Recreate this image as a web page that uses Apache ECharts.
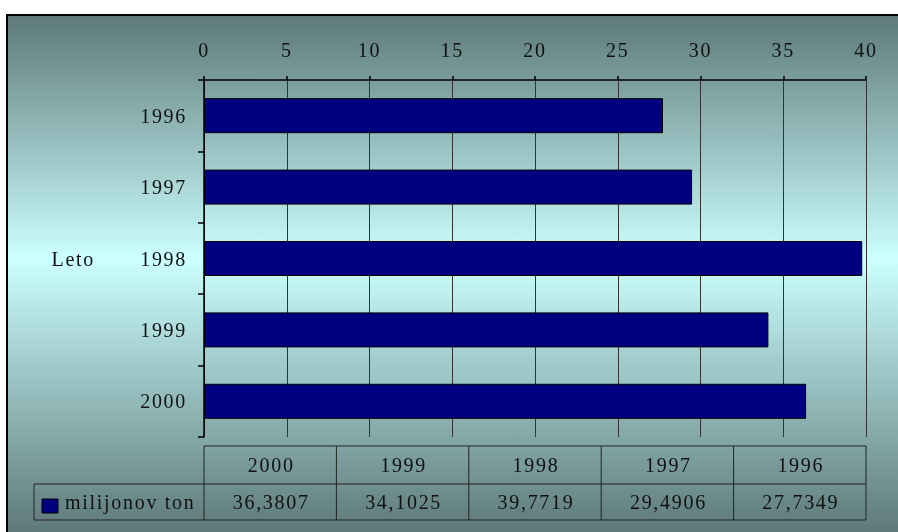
<!DOCTYPE html>
<html><head><meta charset="utf-8">
<script src="https://cdn.jsdelivr.net/npm/echarts@6/dist/echarts.min.js"></script>
<style>
html,body{margin:0;padding:0;width:898px;height:532px;overflow:hidden;background:#fff;}
#frame{position:fixed;left:6px;top:14px;right:0;bottom:0;border-left:2px solid #000;border-top:2px solid #000;
  background:linear-gradient(to bottom,#5e7979 0%,#ccffff 47%,#5e7979 100%);}
#chart{position:absolute;left:0;top:0;width:898px;height:532px;}
#chart text{letter-spacing:1.7px;}
</style></head><body>
<div id="frame"></div><div id="chart"></div>
<script>
const categories = ['1996', '1997', '1998', '1999', '2000'];
const values = [27.7349, 29.4906, 39.7719, 34.1025, 36.3807];
const seriesName = 'milijonov ton';
const axisName = 'Leto';
const xMin = 0, xMax = 40, xStep = 5;
const tableColumns = categories.slice().reverse();

const FONT = '"Liberation Serif", "Times New Roman", serif';
const FS = 20;
const chart = echarts.init(document.getElementById('chart'), null, {renderer: 'svg'});
chart.setOption({
  backgroundColor: 'transparent',
  animation: false,
  grid: {left: 204, right: 32, top: 80, bottom: 95},
  xAxis: {
    type: 'value', position: 'top', min: xMin, max: xMax, interval: xStep,
    axisLine: {show: true, lineStyle: {color: '#000', width: 1.5}},
    axisTick: {show: true, length: 4, lineStyle: {color: '#000', width: 1.5}},
    axisLabel: {color: '#111', fontFamily: FONT, fontSize: FS, margin: 20},
    splitLine: {show: true, lineStyle: {color: '#333', width: 1}}
  },
  yAxis: {
    type: 'category', data: categories, inverse: true,
    name: axisName, nameLocation: 'middle', nameRotate: 0, nameGap: 109,
    nameTextStyle: {color: '#111', fontFamily: FONT, fontSize: FS, align: 'right', verticalAlign: 'middle'},
    axisLine: {show: true, lineStyle: {color: '#000', width: 1.5}},
    axisTick: {show: true, length: 6, lineStyle: {color: '#000', width: 1.5}},
    axisLabel: {color: '#111', fontFamily: FONT, fontSize: FS, margin: 17},
    splitLine: {show: false}
  },
  series: [{
    type: 'bar', name: seriesName, data: values, barWidth: 35,
    itemStyle: {color: '#000080', borderColor: '#000', borderWidth: 1}
  }]
});

// data table below the plot, aligned to the value axis
const x0 = chart.convertToPixel({xAxisIndex: 0}, xMin);
const x1 = chart.convertToPixel({xAxisIndex: 0}, xMax);
const rowTop = 446, rowMid = 484, rowBot = 520, legendLeft = 34;
const colW = (x1 - x0) / tableColumns.length;
const g = [];
const lineStyle = {stroke: '#222', lineWidth: 1};
function hline(xa, xb, y){ g.push({type:'line', shape:{x1:xa, y1:y, x2:xb, y2:y}, style:lineStyle, silent:true}); }
function vline(x, ya, yb){ g.push({type:'line', shape:{x1:x, y1:ya, x2:x, y2:yb}, style:lineStyle, silent:true}); }
function txt(s, x, y, align){
  g.push({type:'text', x: x, y: y, silent:true,
    style:{text:s, x:0, y:0, fill:'#111', font:FS + 'px ' + FONT, align: align || 'center', verticalAlign:'middle',
      textAlign: align || 'center', textVerticalAlign:'middle'}});
}
hline(x0, x1, rowTop);
hline(legendLeft, x1, rowMid);
hline(legendLeft, x1, rowBot);
vline(legendLeft, rowMid, rowBot);
for (let i = 0; i <= tableColumns.length; i++) vline(x0 + i * colW, rowTop, rowBot);
tableColumns.forEach(function(c, i){
  const idx = categories.indexOf(c);
  const cx = x0 + (i + 0.5) * colW;
  txt(c, cx + 1, (rowTop + rowMid) / 2);
  txt(values[idx].toFixed(4).replace('.', ','), cx + 1, (rowMid + rowBot) / 2);
});
g.push({type:'rect', shape:{x:42, y:499, width:16, height:14}, style:{fill:'#000080', stroke:'#000', lineWidth:1}, silent:true});
txt(seriesName, 65, (rowMid + rowBot) / 2, 'left');
chart.setOption({graphic: g});
</script>
</body></html>
